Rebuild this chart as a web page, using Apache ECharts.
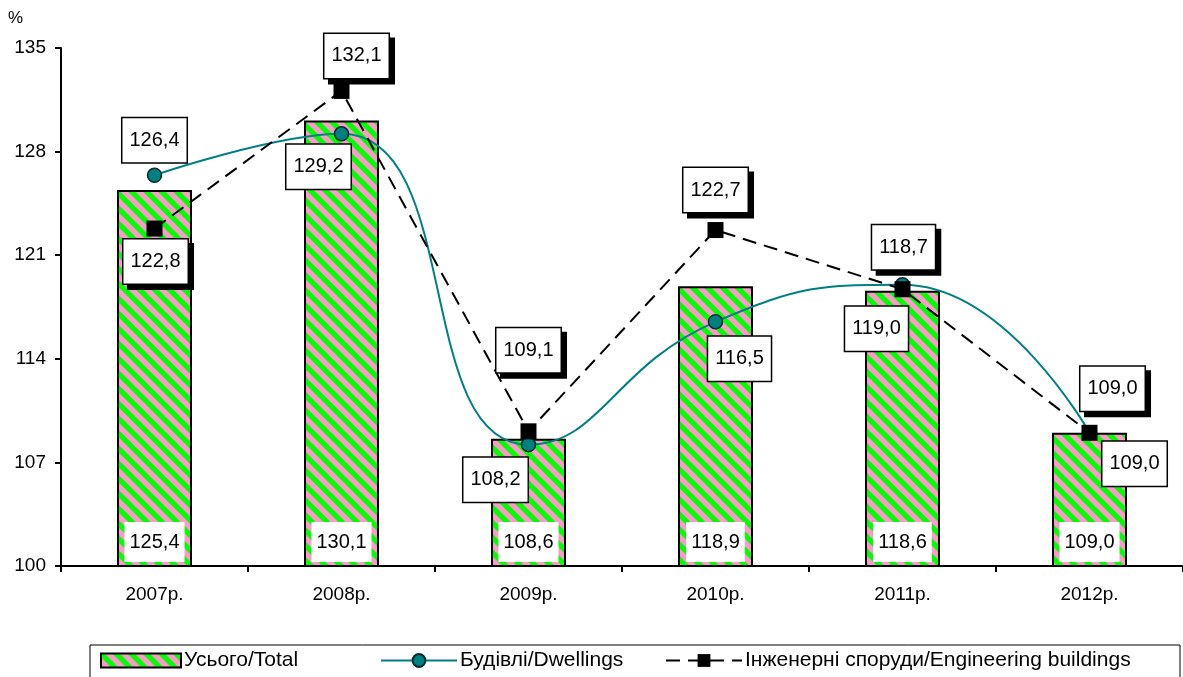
<!DOCTYPE html>
<html>
<head>
<meta charset="utf-8">
<script src="https://cdn.jsdelivr.net/npm/echarts@6/dist/echarts.min.js"></script>
<style>
  html, body { margin: 0; padding: 0; background: #fff; }
  #chart { width: 1183px; height: 677px; }
</style>
</head>
<body>
<div id="chart"></div>
<script>
  // data
  var years = ['2007р.', '2008р.', '2009р.', '2010р.', '2011р.', '2012р.'];
  var total = [125.4, 130.1, 108.6, 118.9, 118.6, 109.0];
  var dwellings = [126.4, 129.2, 108.2, 116.5, 119.0, 109.0];
  var engineering = [122.8, 132.1, 109.1, 122.7, 118.7, 109.0];
  var yTicks = [100, 107, 114, 121, 128, 135];
  var seriesNames = ['Усього/Total', 'Будівлі/Dwellings', 'Інженерні споруди/Engineering buildings'];

  // where each callout box sits relative to its point
  var dwellOffsets = [[0, -35], [-23, 33], [-33, 35], [24, 37], [-26, 44], [45, 31]];
  var engOffsets = [[1, 33], [15, -35], [0, -81], [0, -40], [1, -42], [23, -44]];
  var legendLeft = [100, 380, 665];

  function fmt(v) { return v.toFixed(1).replace('.', ','); }

  // pink with green diagonal stripes
  function stripes() {
    var s = 15;
    var c = document.createElement('canvas');
    c.width = s; c.height = s;
    var ctx = c.getContext('2d');
    ctx.fillStyle = '#ff99cc';
    ctx.fillRect(0, 0, s, s);
    ctx.strokeStyle = '#00ff00';
    ctx.lineWidth = 5.3;
    for (var k = -s; k <= s; k += s) {
      ctx.beginPath();
      ctx.moveTo(k - 3, -3);
      ctx.lineTo(k + s + 3, s + 3);
      ctx.stroke();
    }
    return c;
  }
  var pattern = { image: stripes(), repeat: 'repeat' };

  var boxLabel = {
    show: true,
    position: 'inside',
    fontFamily: 'Liberation Sans',
    fontSize: 20,
    color: '#000',
    backgroundColor: '#fff',
    borderColor: '#000',
    borderWidth: 1.5,
    padding: [12, 7],
    formatter: function (p) { return fmt(p.value); }
  };

  var legends = seriesNames.map(function (n, i) {
    return {
      left: legendLeft[i],
      top: 650,
      padding: 0,
      itemWidth: i === 0 ? 80 : 76,
      itemHeight: i === 0 ? 14 : 16,
      textStyle: { fontSize: 21, color: '#000', fontFamily: 'Liberation Sans', padding: [0, 0, 0, -2] },
      data: [i === 0 ? { name: n, icon: 'rect' } : { name: n }]
    };
  });

  var chart = echarts.init(document.getElementById('chart'));
  chart.setOption({
    animation: false,
    textStyle: { fontFamily: 'Liberation Sans' },
    grid: { left: 61, right: 0, top: 48, bottom: 111 },
    legend: legends,
    graphic: [
      {
        type: 'rect',
        shape: { x: 90, y: 645, width: 1090, height: 50 },
        style: { fill: 'none', stroke: '#000', lineWidth: 1 }
      },
      {
        type: 'text',
        left: 8,
        top: 10,
        style: { text: '%', fontSize: 17, fill: '#000', fontFamily: 'Liberation Sans' }
      }
    ],
    xAxis: {
      type: 'category',
      data: years,
      axisLine: { lineStyle: { color: '#000', width: 2 } },
      axisTick: { show: true, length: 6, lineStyle: { color: '#000', width: 2 } },
      axisLabel: { fontSize: 19, color: '#000', margin: 19 }
    },
    yAxis: {
      type: 'value',
      min: yTicks[0],
      max: yTicks[yTicks.length - 1],
      interval: 7,
      splitLine: { show: false },
      axisLine: { show: true, lineStyle: { color: '#000', width: 2 } },
      axisTick: { show: true, length: 6, lineStyle: { color: '#000', width: 2 } },
      axisLabel: { fontSize: 19, color: '#000', margin: 15 }
    },
    series: [
      {
        name: seriesNames[0],
        type: 'bar',
        barWidth: 75,
        data: total,
        itemStyle: {
          color: pattern,
          borderColor: '#000',
          borderWidth: 2
        },
        label: {
          show: true,
          position: 'insideBottom',
          distance: 5,
          fontSize: 20,
          color: '#000',
          backgroundColor: '#fff',
          padding: [10, 5],
          formatter: function (p) { return fmt(p.value); }
        },
        z: 1
      },
      {
        name: seriesNames[1],
        type: 'line',
        smooth: 0.5,
        symbol: 'circle',
        symbolSize: 14,
        data: dwellings.map(function (v, i) {
          return { value: v, label: { offset: dwellOffsets[i] } };
        }),
        lineStyle: { color: '#008080', width: 2 },
        itemStyle: { color: '#008080', borderColor: '#002b2b', borderWidth: 1.5 },
        label: boxLabel,
        z: 3
      },
      {
        name: seriesNames[2],
        type: 'line',
        symbol: 'rect',
        symbolSize: 16,
        data: engineering.map(function (v, i) {
          return { value: v, label: { offset: engOffsets[i] } };
        }),
        lineStyle: { color: '#000', width: 2, type: [14, 8] },
        itemStyle: { color: '#000' },
        label: Object.assign({}, boxLabel, {
          shadowColor: '#000',
          shadowBlur: 0,
          shadowOffsetX: 5,
          shadowOffsetY: 5
        }),
        z: 4
      }
    ]
  });
</script>
</body>
</html>
